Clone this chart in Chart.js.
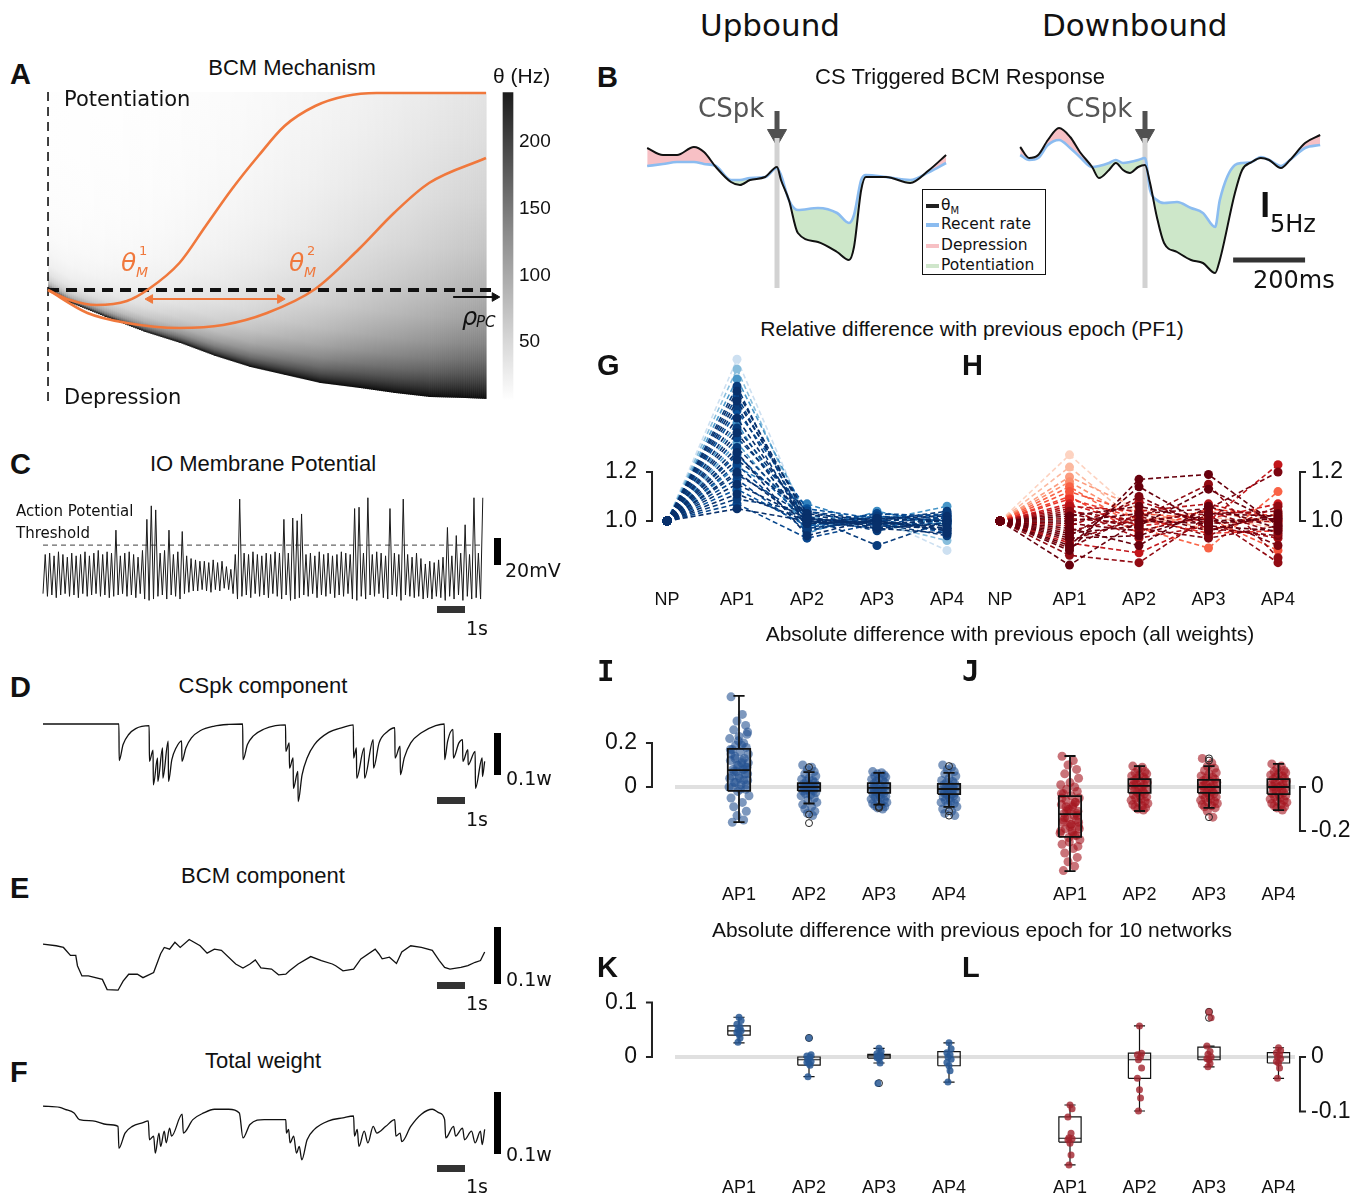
<!DOCTYPE html>
<html lang="en">
<head>
<meta charset="UTF-8">
<title>BCM plasticity figure</title>
<script src="https://cdn.jsdelivr.net/npm/chart.js"></script>
<style>
  body { margin: 0; background: #fff; }
  #fig { position: relative; width: 1359px; height: 1199px; overflow: hidden; font-family: 'Liberation Sans', Arial, sans-serif; color: #111; }
  #fig canvas, .t, .bar, #leg { position: absolute; }
  .t { white-space: nowrap; line-height: 1; }
  .c { transform: translateX(-50%); }
  .lab { font-weight: bold; font-size: 29px; }
  .mono { font-family: 'DejaVu Sans Mono', monospace; }
  .dv { font-family: 'DejaVu Sans', sans-serif; }
  .ttl { font-size: 22px; }
  .rt { font-size: 21px; }
  .bar { background: #000; }
  .sb { background: #333; }
  .or { color: #f0783c; font-family: 'DejaVu Sans', sans-serif; font-style: oblique; }
  #leg { border: 1.5px solid #111; background: #fff; font-family: 'DejaVu Sans', sans-serif; font-size: 15.5px; }
  .lr { position: absolute; left: 3px; line-height: 1; white-space: nowrap; }
  .sw { display: inline-block; width: 13px; height: 4px; vertical-align: middle; margin-right: 2px; }
</style>
</head>
<body>
<div id="fig">
  <canvas id="cA" width="460" height="325" style="left:40px;top:85px"></canvas>
  <canvas id="cCb" width="60" height="325" style="left:500px;top:85px"></canvas>
  <canvas id="cB1" width="310" height="205" style="left:640px;top:95px"></canvas>
  <canvas id="cB2" width="330" height="205" style="left:1010px;top:95px"></canvas>
  <canvas id="cC" width="450" height="115" style="left:40px;top:490px"></canvas>
  <canvas id="cD" width="450" height="95" style="left:40px;top:715px"></canvas>
  <canvas id="cE" width="450" height="75" style="left:40px;top:925px"></canvas>
  <canvas id="cF" width="450" height="75" style="left:40px;top:1095px"></canvas>
  <canvas id="cG" width="370" height="275" style="left:600px;top:340px"></canvas>
  <canvas id="cH" width="370" height="275" style="left:985px;top:340px"></canvas>
  <canvas id="cI" width="385" height="230" style="left:600px;top:680px"></canvas>
  <canvas id="cJ" width="370" height="230" style="left:985px;top:680px"></canvas>
  <canvas id="cK" width="385" height="224" style="left:600px;top:975px"></canvas>
  <canvas id="cL" width="370" height="224" style="left:985px;top:975px"></canvas>

  <div class="t dv" style="left:700px;top:10px;font-size:31px">Upbound</div>
  <div class="t dv" style="left:1042px;top:10px;font-size:31px">Downbound</div>

  <div class="t lab" style="left:10px;top:60px">A</div>
  <div class="t lab" style="left:597px;top:63px">B</div>
  <div class="t lab" style="left:10px;top:450px">C</div>
  <div class="t lab" style="left:10px;top:673px">D</div>
  <div class="t lab" style="left:10px;top:874px">E</div>
  <div class="t lab" style="left:10px;top:1058px">F</div>
  <div class="t lab" style="left:597px;top:351px">G</div>
  <div class="t lab" style="left:962px;top:351px">H</div>
  <div class="t lab mono" style="left:597px;top:657px">I</div>
  <div class="t lab mono" style="left:962px;top:657px">J</div>
  <div class="t lab" style="left:597px;top:953px">K</div>
  <div class="t lab" style="left:962px;top:953px">L</div>

  <div class="t ttl c" style="left:292px;top:57px">BCM Mechanism</div>
  <div class="t" style="left:493px;top:65px;font-size:21px">θ (Hz)</div>
  <div class="t dv" style="left:64px;top:89px;font-size:21px">Potentiation</div>
  <div class="t dv" style="left:64px;top:387px;font-size:21px">Depression</div>
  <div class="t or" style="left:121px;top:250px;font-size:25px">θ</div>
  <div class="t or" style="left:139px;top:244px;font-size:13px;font-style:normal">1</div>
  <div class="t or" style="left:136px;top:265px;font-size:14px">M</div>
  <div class="t or" style="left:289px;top:250px;font-size:25px">θ</div>
  <div class="t or" style="left:307px;top:244px;font-size:13px;font-style:normal">2</div>
  <div class="t or" style="left:304px;top:265px;font-size:14px">M</div>
  <div class="t dv" style="left:462px;top:305px;font-size:24px;font-style:oblique">ρ</div>
  <div class="t dv" style="left:476px;top:315px;font-size:15px;font-style:oblique">PC</div>

  <div class="t ttl c" style="left:960px;top:66px">CS Triggered BCM Response</div>
  <div class="t dv" style="left:698px;top:95px;font-size:26px;color:#555">CSpk</div>
  <div class="t dv" style="left:1066px;top:95px;font-size:26px;color:#555">CSpk</div>
  <div class="t dv" style="left:1270px;top:212px;font-size:24px">5Hz</div>
  <div class="t dv" style="left:1253px;top:268px;font-size:24px">200ms</div>
  <div id="leg" style="left:922px;top:189px;width:122px;height:84px">
    <div class="lr" style="top:8px"><span class="sw" style="background:#222"></span>θ<sub style="font-size:10px">M</sub></div>
    <div class="lr" style="top:27px"><span class="sw" style="background:#8bbcf0"></span>Recent rate</div>
    <div class="lr" style="top:48px"><span class="sw" style="background:#f7c0c4"></span>Depression</div>
    <div class="lr" style="top:68px"><span class="sw" style="background:#cfe6cb"></span>Potentiation</div>
  </div>

  <div class="t ttl c" style="left:263px;top:453px">IO Membrane Potential</div>
  <div class="t dv" style="left:16px;top:504px;font-size:15px">Action Potential</div>
  <div class="t dv" style="left:16px;top:526px;font-size:15px">Threshold</div>
  <div class="bar" style="left:494px;top:538px;width:7px;height:27px"></div>
  <div class="t dv" style="left:505px;top:561px;font-size:19px">20mV</div>
  <div class="bar sb" style="left:437px;top:606px;width:28px;height:7px"></div>
  <div class="t dv" style="left:466px;top:619px;font-size:19px">1s</div>

  <div class="t ttl c" style="left:263px;top:675px">CSpk component</div>
  <div class="bar" style="left:494px;top:733px;width:7px;height:42px"></div>
  <div class="t dv" style="left:506px;top:769px;font-size:19px">0.1w</div>
  <div class="bar sb" style="left:437px;top:797px;width:28px;height:7px"></div>
  <div class="t dv" style="left:466px;top:810px;font-size:19px">1s</div>

  <div class="t ttl c" style="left:263px;top:865px">BCM component</div>
  <div class="bar" style="left:494px;top:927px;width:7px;height:57px"></div>
  <div class="t dv" style="left:506px;top:970px;font-size:19px">0.1w</div>
  <div class="bar sb" style="left:437px;top:982px;width:28px;height:7px"></div>
  <div class="t dv" style="left:466px;top:994px;font-size:19px">1s</div>

  <div class="t ttl c" style="left:263px;top:1050px">Total weight</div>
  <div class="bar" style="left:494px;top:1092px;width:7px;height:62px"></div>
  <div class="t dv" style="left:506px;top:1145px;font-size:19px">0.1w</div>
  <div class="bar sb" style="left:437px;top:1165px;width:28px;height:7px"></div>
  <div class="t dv" style="left:466px;top:1177px;font-size:19px">1s</div>

  <div class="t rt c" style="left:972px;top:318px">Relative difference with previous epoch (PF1)</div>
  <div class="t rt c" style="left:1010px;top:623px">Absolute difference with previous epoch (all weights)</div>
  <div class="t rt c" style="left:972px;top:919px">Absolute difference with previous epoch for 10 networks</div>
</div>

<script>
// ---------- A: BCM mechanism (rho normalised 0..1, theta in arbitrary units, 0 = dashed line)
const th1Rho = [0, 0.05, 0.11, 0.18, 0.23, 0.30, 0.36, 0.42, 0.48, 0.54, 0.61, 0.68, 0.75, 1.0];
const th1Val = [0, -0.10, -0.15, -0.11, 0.01, 0.27, 0.64, 1.01, 1.34, 1.64, 1.84, 1.94, 1.97, 1.97];
const th2Rho = [0, 0.09, 0.18, 0.30, 0.40, 0.50, 0.61, 0.71, 0.79, 0.87, 1.0];
const th2Val = [0, -0.23, -0.33, -0.38, -0.35, -0.23, 0.01, 0.41, 0.77, 1.07, 1.32];
const envRho = [0, 0.05, 0.13, 0.22, 0.30, 0.38, 0.46, 0.54, 0.62, 0.71, 0.79, 0.87, 0.95, 1.0];
const envVal = [0, -0.13, -0.27, -0.42, -0.53, -0.66, -0.77, -0.85, -0.93, -0.98, -1.03, -1.07, -1.08, -1.09];
const aTop = 1.98, aBottom = -1.15, aDashEnd = 1.025;
const rhoArrowX = [0.925, 1.02], rhoArrowY = -0.07;
const shiftX = [0.233, 0.53], shiftY = -0.09;
const cbRange = [6, 237];
const cbTicks = [50, 100, 150, 200];

// ---------- B: CS triggered response (ms from CSpk, Hz)
const b1T = [-361, -317, -278, -231, -203, -170, -128, -103, -75, -33, 0, 11, 33, 58, 114, 167, 200, 214, 234, 247, 303, 370, 423, 470];
const b1Theta = [30.4, 29, 29, 30.6, 29.6, 26.6, 23.6, 23, 24, 24.6, 26.6, 24, 20, 13.4, 11.6, 9.6, 8, 10.6, 22, 24.6, 24.6, 23.4, 26, 29];
const b1Rate = [26.8, 27.2, 27.6, 27.6, 27.2, 26.8, 24, 24, 24.4, 24.6, 26.4, 25, 20, 18, 18.4, 17.4, 15.4, 17, 24, 25, 24.6, 24, 25.6, 27.4];
const b2T = [-347, -322, -297, -270, -239, -208, -181, -147, -128, -100, -81, -61, -42, -19, 0, 14, 33, 53, 89, 128, 161, 195, 208, 250, 270, 297, 322, 345, 378, 403, 445, 487];
const b2Theta = [30.6, 28.4, 29, 32, 34.4, 32.6, 29.6, 26.6, 24.4, 26, 27.4, 26, 25.4, 26.6, 27, 23.4, 16.6, 11.4, 9.6, 8, 7.4, 5.4, 8, 21.4, 26, 27.6, 28.4, 28, 26.4, 28, 31.4, 33];
const b2Rate = [29, 28, 28.4, 31, 32, 30.4, 28.6, 26.6, 26.8, 27.4, 28, 27.4, 27.6, 28, 28.4, 22, 20, 19.4, 19.6, 18.4, 17.4, 14.6, 20, 27, 27.4, 27.6, 28.6, 28, 26.8, 28, 30.4, 31];
const cspkLine = [2.4, 32.4];
const arrowHz = [37.8, 34.2, 33.0];
const hzBarT = 334, hzBar = [16.6, 21.6];
const msBarHz = 8, msBar = [245, 445];

// ---------- C: IO membrane potential, one peak and one trough per cycle (mV)
const ioPeak = [-47, -46, -48, -45, -47, -49, -46, -48, -47, -45,
  -48, -46, -44, -47, -45, -46, -29, -48, -46, -45,
  -47, -49, -44, -21, -11, -14, -46, -44, -29, -47,
  -45, -30, -48, -50, -51, -52, -52, -53, -51, -53,
  -52, -56, -58, -47, -6, -46, -47, -45, -47, -48,
  -46, -47, -45, -46, -21, -46, -20, -22, -17, -47,
  -46, -48, -45, -47, -46, -48, -47, -45, -46, -47,
  -13, -12, -46, -5, -47, -45, -46, -48, -13, -46,
  -47, -6, -47, -49, -46, -50, -54, -52, -53, -51,
  -49, -27, -48, -33, -46, -25, -47, -5, -46, -5];
const ioTrough = [-76, -78, -77, -79, -77, -76, -78, -77, -79, -76,
  -78, -77, -76, -78, -77, -79, -78, -77, -76, -78,
  -77, -79, -76, -80, -81, -80, -78, -77, -80, -77,
  -78, -80, -76, -75, -74, -74, -73, -74, -75, -73,
  -74, -72, -73, -76, -80, -78, -77, -79, -76, -78,
  -77, -79, -76, -78, -80, -77, -81, -80, -79, -77,
  -78, -76, -79, -77, -78, -76, -79, -77, -78, -76,
  -80, -81, -78, -80, -77, -78, -76, -79, -80, -77,
  -78, -81, -77, -78, -79, -78, -80, -79, -80, -78,
  -79, -81, -78, -80, -77, -81, -78, -80, -79, -80];
const ioThreshold = -40;

// ---------- D, E, F: weight components (s, w)
const dT = [0, 2.71, 2.72, 2.86, 3.06, 3.31, 3.79, 3.80, 3.93, 3.94, 4.09, 4.10, 4.27, 4.28, 4.47, 4.48, 4.60, 4.75, 4.95, 4.96,
  5.10, 5.30, 5.61, 6.12, 6.63, 7.13, 7.14, 7.30, 7.50, 7.90, 8.30, 8.66, 8.67, 8.79, 8.80, 8.93, 8.94, 9.10, 9.11, 9.25,
  9.43, 9.69, 10.20, 10.71, 11.08, 11.09, 11.19, 11.20, 11.47, 11.48, 11.79, 11.80, 12.00, 12.30, 12.56, 12.57, 12.75, 12.76, 12.90, 13.13,
  13.51, 14.02, 14.33, 14.34, 14.45, 14.64, 14.65, 14.85, 14.98, 14.99, 15.17, 15.18, 15.43, 15.44, 15.68, 15.69, 15.77];
const dW = [0, 0, -0.087, -0.049, -0.025, -0.011, -0.004, -0.089, -0.062, -0.145, -0.081, -0.137, -0.057, -0.129, -0.041, -0.137, -0.085, -0.057, -0.040, -0.089,
  -0.057, -0.033, -0.016, -0.005, -0.001, 0, -0.085, -0.049, -0.029, -0.012, -0.004, -0.002, -0.065, -0.045, -0.105, -0.081, -0.153, -0.113, -0.185, -0.121,
  -0.081, -0.049, -0.020, -0.008, -0.002, -0.081, -0.057, -0.129, -0.057, -0.129, -0.037, -0.105, -0.045, -0.018, -0.009, -0.081, -0.053, -0.121, -0.080, -0.045,
  -0.021, -0.004, 0, -0.085, -0.040, -0.013, -0.081, -0.045, -0.037, -0.089, -0.061, -0.097, -0.065, -0.153, -0.081, -0.125, -0.089];
const eT = [0, 0.47, 0.73, 0.98, 1.17, 1.23, 1.39, 1.62, 2.12, 2.29, 2.68, 2.86, 3.06, 3.37, 3.57, 3.95, 4.20, 4.33, 4.52, 4.71,
  4.90, 5.22, 5.61, 5.86, 6.12, 6.37, 6.88, 7.14, 7.39, 7.58, 7.78, 8.16, 8.41, 8.67, 8.80, 9.11, 9.56, 9.94, 10.33, 10.45,
  10.71, 11.09, 11.35, 11.86, 11.99, 12.11, 12.37, 12.62, 12.81, 13.13, 13.51, 13.90, 14.15, 14.34, 14.53, 14.92, 15.17, 15.43, 15.62, 15.77];
const eW = [0.028, 0.025, 0.022, 0.008, 0.008, -0.010, -0.028, -0.028, -0.034, -0.052, -0.053, -0.037, -0.025, -0.025, -0.031, -0.022, 0.011, 0.022, 0.019, 0.031,
  0.022, 0.036, 0.025, 0.012, 0.019, 0.017, -0.007, -0.014, -0.007, 0.0, -0.014, -0.016, -0.026, -0.025, -0.019, -0.007, 0.006, -0.001, -0.007, -0.010,
  -0.019, -0.016, 0.002, 0.019, 0.011, 0.002, 0.005, -0.006, 0.014, 0.025, 0.022, 0.017, -0.001, -0.013, -0.016, -0.013, -0.010, -0.004, -0.001, 0.014];
const fT = [0, 0.60, 0.79, 1.11, 1.30, 1.78, 2.29, 2.68, 2.71, 2.93, 3.19, 3.57, 3.76, 3.80, 3.95, 4.01, 4.14, 4.20, 4.33, 4.40,
  4.52, 4.59, 4.97, 5.01, 5.35, 5.74, 6.12, 6.63, 7.01, 7.14, 7.39, 7.90, 8.67, 8.69, 8.77, 8.82, 8.95, 9.05, 9.15, 9.24,
  9.43, 9.69, 10.20, 10.71, 11.09, 11.12, 11.22, 11.28, 11.47, 11.60, 11.79, 11.92, 12.24, 12.56, 12.60, 12.75, 12.81, 13.13, 13.51, 13.90,
  14.15, 14.34, 14.38, 14.66, 14.73, 14.98, 15.05, 15.30, 15.43, 15.62, 15.68, 15.77];
const fW = [0.039, 0.037, 0.034, 0.028, 0.017, 0.015, 0.009, 0.006, -0.030, -0.005, 0.006, 0.012, 0.015, -0.016, -0.010, -0.038, -0.005, -0.027, -0.002, -0.021,
  0.003, -0.010, 0.026, -0.005, 0.017, 0.028, 0.034, 0.034, 0.028, -0.013, 0.009, 0.017, 0.017, -0.005, 0.001, -0.021, -0.010, -0.038, -0.027, -0.049,
  -0.016, 0.001, 0.015, 0.020, 0.023, -0.010, 0.001, -0.027, -0.002, -0.021, 0.006, -0.005, 0.006, 0.017, -0.010, -0.005, -0.019, 0.006, 0.026, 0.034,
  0.028, 0.017, -0.013, 0.006, -0.010, 0.003, -0.016, -0.002, -0.021, -0.002, -0.024, 0.001];

// ---------- G, H: relative difference with previous epoch, one entry per PF
const epochNames = ['NP', 'AP1', 'AP2', 'AP3', 'AP4'];
const npRel = 1.0;
const gAP1 = [1.66, 1.62, 1.58, 1.55, 1.53, 1.51, 1.49, 1.47, 1.45, 1.42, 1.40, 1.38, 1.36, 1.34, 1.32, 1.30, 1.28, 1.27, 1.25, 1.23, 1.22, 1.20, 1.19, 1.17, 1.15, 1.13, 1.11, 1.09, 1.07, 1.05];
const gAP2 = [1.00, 0.98, 1.02, 0.96, 1.01, 0.99, 1.03, 0.97, 1.05, 1.00, 0.95, 1.02, 0.99, 1.04, 0.98, 1.01, 0.94, 1.00, 1.03, 0.97, 1.07, 0.99, 1.02, 0.96, 1.01, 0.98, 1.00, 1.04, 0.93, 1.00];
const gAP3 = [1.01, 0.99, 1.00, 1.02, 0.98, 1.03, 0.97, 1.00, 1.01, 0.99, 1.04, 0.96, 1.00, 0.98, 1.02, 0.99, 1.01, 0.97, 1.00, 1.03, 0.98, 1.00, 0.90, 1.01, 0.99, 1.02, 0.97, 1.00, 0.99, 1.01];
const gAP4 = [0.88, 0.92, 1.06, 1.00, 0.97, 1.02, 0.99, 1.04, 0.95, 1.00, 0.98, 1.01, 0.96, 1.03, 0.99, 0.94, 1.00, 1.02, 0.97, 1.01, 0.99, 0.96, 1.00, 1.03, 0.98, 1.00, 0.95, 1.01, 0.99, 1.02];
const hAP1 = [1.27, 1.22, 1.18, 1.16, 1.14, 1.12, 1.10, 1.09, 1.07, 1.06, 1.05, 1.04, 1.03, 1.02, 1.01, 1.00, 0.99, 0.98, 0.97, 0.96, 0.95, 0.94, 0.93, 0.92, 0.91, 0.90, 0.89, 0.88, 0.86, 0.82];
const hAP2 = [1.02, 0.99, 1.05, 1.00, 0.97, 1.03, 0.95, 1.01, 0.98, 1.04, 0.93, 1.00, 0.97, 1.06, 0.99, 1.03, 0.96, 1.08, 0.90, 1.02, 0.98, 1.10, 0.94, 1.01, 0.87, 1.14, 1.03, 1.17, 0.83, 1.00];
const hAP3 = [0.99, 1.02, 0.96, 1.04, 0.89, 1.01, 1.05, 0.95, 1.01, 1.07, 0.98, 1.03, 0.93, 1.00, 1.04, 0.96, 1.02, 0.99, 1.06, 0.94, 1.13, 0.97, 1.03, 1.15, 1.00, 0.98, 1.05, 1.19, 1.02, 0.99];
const hAP4 = [1.00, 0.97, 1.03, 0.99, 1.12, 0.88, 1.02, 0.96, 1.07, 1.00, 0.93, 1.04, 0.98, 1.01, 0.95, 1.03, 0.90, 1.00, 0.97, 1.06, 0.99, 0.94, 1.02, 0.85, 1.23, 0.96, 1.20, 0.98, 0.83, 1.01];
// colour level of each PF line in the colormap (style only)
const gShade = [0.1, 0.35, 0.55, 0.95, 1, 0.9, 1, 0.95, 0.85, 1, 0.6, 0.95, 1, 0.9, 0.5, 0.95, 1, 0.85, 1, 0.9, 0.65, 1, 0.95, 0.9, 1, 0.85, 1, 0.95, 0.9, 1];
const hShade = [0.05, 0.15, 0.25, 0.3, 0.45, 0.5, 0.55, 0.6, 0.7, 0.8, 0.85, 0.9, 0.95, 1, 0.9, 1, 0.95, 0.85, 1, 0.9, 1, 0.95, 1, 0.9, 0.75, 1, 0.95, 1, 0.9, 1];

// ---------- I, J: absolute difference, all weights
const apNames = ['AP1', 'AP2', 'AP3', 'AP4'];
const epochX = [1, 2, 3, 4];
const jit40 = [-0.12, 0.05, -0.03, 0.10, -0.08, 0.13, 0.00, -0.14, 0.07, -0.05, 0.11, -0.10, 0.02, 0.14, -0.06, 0.08, -0.13, 0.04, -0.01, 0.12,
  -0.09, 0.06, -0.04, 0.09, -0.11, 0.01, 0.13, -0.07, 0.03, -0.15, 0.10, -0.02, 0.15, -0.12, 0.05, -0.08, 0.11, -0.03, 0.07, -0.10];
const iAP1 = [0.41, 0.33, 0.30, 0.28, 0.26, 0.25, 0.23, 0.22, 0.20, 0.19, 0.18, 0.17, 0.16, 0.15, 0.14, 0.13, 0.12, 0.11, 0.10, 0.09,
  0.08, 0.08, 0.07, 0.06, 0.05, 0.04, 0.03, 0.02, 0.01, 0.00, -0.01, -0.02, -0.04, -0.05, -0.07, -0.09, -0.11, -0.13, -0.15, -0.16,
  0.15, 0.12, 0.10, 0.09, 0.07, 0.06, 0.05, 0.04, 0.03, 0.02, 0.01, 0.0, -0.01, 0.11, 0.13, 0.08, 0.17, 0.19, 0.21, 0.24];
const iAP2 = [0.10, 0.09, 0.08, 0.07, 0.06, 0.05, 0.04, 0.035, 0.03, 0.025, 0.02, 0.015, 0.01, 0.008, 0.005, 0.003, 0.0, -0.002, -0.004, -0.006,
  -0.008, -0.01, -0.012, -0.015, -0.018, -0.02, -0.025, -0.03, -0.035, -0.04, -0.05, -0.06, -0.07, -0.08, -0.09, -0.10, -0.11, -0.12, -0.13, 0.001];
const iAP3 = [0.07, 0.065, 0.06, 0.055, 0.05, 0.045, 0.04, 0.035, 0.03, 0.025, 0.02, 0.015, 0.01, 0.005, 0.0, -0.003, -0.006, -0.01, -0.013, -0.016,
  -0.02, -0.023, -0.026, -0.03, -0.034, -0.038, -0.042, -0.046, -0.05, -0.055, -0.06, -0.065, -0.07, -0.075, -0.08, -0.085, -0.09, -0.095, -0.10, -0.005];
const iAP4 = [0.10, 0.09, 0.08, 0.07, 0.06, 0.05, 0.04, 0.03, 0.025, 0.02, 0.015, 0.01, 0.005, 0.0, -0.004, -0.008, -0.012, -0.016, -0.02, -0.024,
  -0.028, -0.032, -0.036, -0.04, -0.045, -0.05, -0.055, -0.06, -0.065, -0.07, -0.075, -0.08, -0.09, -0.10, -0.11, -0.12, -0.13, -0.01, 0.0, -0.02];
const iQ1 = [-0.018, -0.018, -0.027, -0.032], iMed = [0.077, 0.0, -0.004, -0.009], iQ3 = [0.173, 0.018, 0.018, 0.014];
const iLo = [-0.16, -0.075, -0.08, -0.09], iHi = [0.414, 0.068, 0.064, 0.064];
const iOutX = [2, 2, 2, 3, 3, 4, 4, 4], iOutY = [-0.164, -0.125, 0.09, -0.09, -0.095, 0.095, -0.11, -0.13];
const jAP1 = [0.14, 0.12, 0.10, 0.08, 0.06, 0.04, 0.02, 0.01, 0.0, -0.01, -0.02, -0.03, -0.04, -0.05, -0.06, -0.07, -0.08, -0.09, -0.10, -0.11,
  -0.12, -0.13, -0.14, -0.15, -0.16, -0.17, -0.18, -0.19, -0.20, -0.21, -0.22, -0.23, -0.24, -0.26, -0.28, -0.30, -0.32, -0.34, -0.36, -0.38,
  -0.05, -0.08, -0.10, -0.12, -0.14, -0.16, -0.18, -0.20, -0.22, -0.11, -0.13, -0.15, -0.17, -0.19, -0.09, -0.07, -0.03, -0.21, -0.25, -0.27];
const jAP2 = [0.095, 0.09, 0.08, 0.07, 0.065, 0.06, 0.055, 0.05, 0.045, 0.04, 0.035, 0.03, 0.025, 0.02, 0.015, 0.01, 0.005, 0.0, -0.005, -0.01,
  -0.015, -0.02, -0.025, -0.03, -0.035, -0.04, -0.045, -0.05, -0.055, -0.06, -0.065, -0.07, -0.075, -0.08, -0.085, -0.09, -0.095, -0.10, -0.105, 0.012];
const jAP3 = [0.13, 0.11, 0.095, 0.085, 0.075, 0.065, 0.06, 0.05, 0.045, 0.04, 0.035, 0.03, 0.025, 0.02, 0.015, 0.01, 0.005, 0.0, -0.005, -0.01,
  -0.015, -0.02, -0.025, -0.03, -0.035, -0.04, -0.045, -0.05, -0.055, -0.06, -0.065, -0.07, -0.075, -0.08, -0.085, -0.09, -0.095, -0.11, -0.137, 0.005];
const jAP4 = [0.105, 0.095, 0.085, 0.075, 0.07, 0.065, 0.06, 0.055, 0.05, 0.045, 0.04, 0.035, 0.03, 0.025, 0.02, 0.015, 0.01, 0.005, 0.0, -0.005,
  -0.01, -0.015, -0.02, -0.025, -0.03, -0.035, -0.04, -0.045, -0.05, -0.055, -0.06, -0.065, -0.07, -0.075, -0.08, -0.085, -0.09, -0.095, -0.105, 0.002];
const jQ1 = [-0.227, -0.027, -0.027, -0.032], jMed = [-0.123, 0.005, 0.0, 0.0], jQ3 = [-0.041, 0.036, 0.032, 0.036];
const jLo = [-0.382, -0.109, -0.095, -0.105], jHi = [0.141, 0.095, 0.095, 0.105];
const jOutX = [3, 3, 3], jOutY = [0.13, 0.12, -0.137];

// ---------- K, L: absolute difference, 10 networks
const jit10 = [0, 0.03, -0.03, 0.015, -0.015, 0.03, -0.03, 0, 0.015, -0.015];
const kAP1 = [0.073, 0.067, 0.060, 0.055, 0.050, 0.048, 0.045, 0.042, 0.035, 0.027];
const kAP2 = [0.035, 0.004, 0.002, 0.0, -0.005, -0.008, -0.010, -0.012, -0.015, -0.036];
const kAP3 = [0.016, 0.010, 0.006, 0.004, 0.002, 0.001, -0.001, -0.003, -0.011, -0.048];
const kAP4 = [0.026, 0.015, 0.008, 0.004, 0.0, -0.004, -0.010, -0.016, -0.025, -0.046];
const kQ1 = [0.040, -0.015, -0.002, -0.016], kMed = [0.048, -0.005, 0.002, 0.0], kQ3 = [0.057, 0.0, 0.005, 0.010];
const kLo = [0.026, -0.036, -0.011, -0.046], kHi = [0.073, 0.0, 0.016, 0.026];
const kOutX = [2, 3], kOutY = [0.035, -0.048];
const lAP1 = [-0.088, -0.095, -0.110, -0.140, -0.148, -0.150, -0.152, -0.158, -0.180, -0.198];
const lAP2 = [0.057, 0.007, 0.004, 0.0, -0.005, -0.020, -0.039, -0.060, -0.075, -0.099];
const lAP3 = [0.083, 0.072, 0.020, 0.010, 0.005, 0.0, -0.003, -0.005, -0.012, -0.018];
const lAP4 = [0.017, 0.012, 0.008, 0.004, 0.0, -0.003, -0.008, -0.011, -0.020, -0.039];
const lQ1 = [-0.156, -0.039, -0.005, -0.011], lMed = [-0.149, -0.005, 0.0, 0.0], lQ3 = [-0.110, 0.007, 0.018, 0.008];
const lLo = [-0.198, -0.099, -0.018, -0.039], lHi = [-0.088, 0.057, 0.020, 0.017];
const lOutX = [3, 3], lOutY = [0.083, 0.072];

// ---------- helpers
Chart.defaults.font.family = "'Liberation Sans', Arial, sans-serif";
Chart.defaults.color = '#111';
const $ = id => document.getElementById(id);
const pts = (xs, ys) => xs.map((x, i) => ({ x, y: ys[i] }));
const orange = '#f0783c';
const blues = ['#deebf7', '#c6dbef', '#9ecae1', '#6baed6', '#4292c6', '#2171b5', '#08519c', '#08306b'];
const reds = ['#fee0d2', '#fcbba1', '#fc9272', '#fb6a4a', '#ef3b2c', '#cb181d', '#a50f15', '#67000d'];

function hex(h) { return [1, 3, 5].map(k => parseInt(h.substr(k, 2), 16)); }
function cmap(stops, t) {
  const p = t * (stops.length - 1), i = Math.min(Math.floor(p), stops.length - 2), f = p - i;
  const a = hex(stops[i]), b = hex(stops[i + 1]);
  return 'rgb(' + a.map((v, k) => Math.round(v + (b[k] - v) * f)).join(',') + ')';
}

function base() {
  return {
    responsive: false, animation: false, events: [],
    layout: { padding: 0, autoPadding: false },
    elements: { point: { radius: 0, hitRadius: 0 }, line: { tension: 0 } },
    plugins: { legend: { display: false }, tooltip: { enabled: false },
      filler: { propagate: false, drawTime: 'beforeDatasetsDraw' } }
  };
}
function bare(xmin, xmax, ymin, ymax) {
  const o = base();
  o.scales = { x: { type: 'linear', display: false, min: xmin, max: xmax },
               y: { type: 'linear', display: false, min: ymin, max: ymax } };
  return o;
}
// axes with fixed sizes so that the plot area lands where the figure has it
function yFixed(min, max, ticks, labels, side, width, size) {
  return {
    type: 'linear', position: side, min, max,
    grid: { display: false, drawTicks: false }, border: { display: false },
    ticks: { padding: 3, color: '#111', font: { size }, callback: (v, i) => labels[i] },
    afterBuildTicks: s => { s.ticks = ticks.map(v => ({ value: v })); },
    afterFit: s => { s.width = width; s.paddingTop = 0; s.paddingBottom = 0; }
  };
}
function axed(xr, xTicks, xLabels, xH, yr, yTicks, yLabels, side) {
  const o = base();
  o.scales = {
    x: { type: 'linear', min: xr[0], max: xr[1],
      grid: { display: false, drawTicks: false }, border: { display: false },
      ticks: { padding: 4, autoSkip: false, maxRotation: 0, minRotation: 0, color: '#111', font: { size: 18 },
        callback: (v, i) => xLabels[i] },
      afterBuildTicks: s => { s.ticks = xTicks.map(v => ({ value: v })); },
      afterFit: s => { s.height = xH; s.paddingLeft = 0; s.paddingRight = 0; } },
    y: yFixed(yr[0], yr[1], yTicks, yLabels, side, side === 'left' ? 40 : 47, 23)
  };
  return o;
}
function bracketSet(xOut, xSpine, y1, y2) {
  return { data: [{ x: xOut, y: y1 }, { x: xSpine, y: y1 }, { x: xSpine, y: y2 }, { x: xOut, y: y2 }],
    borderColor: '#222', borderWidth: 2, order: 0 };
}

// ---------- A
const shade = {
  id: 'shade',
  beforeDatasetsDraw(chart) {
    const env = chart.getDatasetMeta(2).data;
    const ctx = chart.ctx, top = chart.scales.y.getPixelForValue(aTop), x0 = env[0].x;
    const dists = [0, 3, 6, 10, 16, 25, 38, 55, 80, 110, 150, 200, 260, 330];
    ctx.save();
    for (let k = 0; k < env.length - 1; k++) {
      const a = env[k], b = env[k + 1];
      for (let px = a.x; px < b.x; px += 2) {
        const ey = a.y + (b.y - a.y) * (px - a.x) / (b.x - a.x);
        const h = ey - top;
        const L = 5 + 0.0005 * (px - x0) * (px - x0);
        const g = ctx.createLinearGradient(0, top, 0, ey);
        const tone = d => { const c = Math.round(255 - 245 / Math.pow(1 + d / L, 1.55)); return `rgb(${c},${c},${c})`; };
        dists.forEach(d => { if (d < h) g.addColorStop(1 - d / h, tone(d)); });
        g.addColorStop(0, tone(h));
        ctx.fillStyle = g;
        ctx.fillRect(px, top, Math.min(2.6, b.x - px + 0.6), h);
      }
    }
    ctx.restore();
  }
};
new Chart($('cA'), {
  type: 'line',
  data: { datasets: [
    { data: pts(th1Rho, th1Val), borderColor: orange, borderWidth: 2.6, cubicInterpolationMode: 'monotone', order: 1 },
    { data: pts(th2Rho, th2Val), borderColor: orange, borderWidth: 2.6, cubicInterpolationMode: 'monotone', order: 1 },
    { data: pts(envRho, envVal), borderWidth: 0, borderColor: 'rgba(0,0,0,0)', order: 9 },
    { data: [{ x: 0, y: aTop }, { x: 0, y: aBottom }], borderColor: '#111', borderWidth: 1.6, borderDash: [9, 6], order: 4 },
    { data: [{ x: 0, y: 0 }, { x: aDashEnd, y: 0 }], borderColor: '#111', borderWidth: 4, borderDash: [11, 7], order: 3 },
    { data: pts(rhoArrowX, [rhoArrowY, rhoArrowY]), borderColor: '#111', borderWidth: 2.2, order: 2 },
    { data: [{ x: rhoArrowX[1], y: rhoArrowY }], showLine: false, pointStyle: 'triangle', pointRadius: 5, pointRotation: 90,
      backgroundColor: '#111', borderColor: '#111', pointBorderWidth: 1, order: 2 },
    { data: pts(shiftX, [shiftY, shiftY]), borderColor: orange, borderWidth: 2.2, order: 1 },
    { data: pts(shiftX, [shiftY, shiftY]), showLine: false, pointStyle: 'triangle', pointRadius: 5, pointRotation: [-90, 90],
      backgroundColor: orange, borderColor: orange, pointBorderWidth: 1, order: 1 }
  ] },
  options: bare(-0.0183, 1.032, -1.2, 2.05),
  plugins: [shade]
});

// colour bar
const cbOpts = base();
cbOpts.scales = { x: { display: false }, y: yFixed(-1, 242.75, cbTicks, cbTicks.map(String), 'right', 44, 19) };
new Chart($('cCb'), {
  type: 'bar',
  data: { labels: ['θ'], datasets: [{ data: [cbRange], barThickness: 10, borderWidth: 0,
    backgroundColor: c => {
      const ch = c.chart;
      if (!ch.chartArea) return '#888';
      const y = ch.scales.y;
      const g = ch.ctx.createLinearGradient(0, y.getPixelForValue(cbRange[1]), 0, y.getPixelForValue(cbRange[0]));
      g.addColorStop(0, '#1c1c1c'); g.addColorStop(0.45, '#8a8a8a'); g.addColorStop(0.8, '#d6d6d6'); g.addColorStop(1, '#ffffff');
      return g;
    } }] },
  options: cbOpts
});

// ---------- B
function bSets(t, theta, rate) {
  return [
    { data: pts(t, theta), borderColor: '#111', borderWidth: 2, cubicInterpolationMode: 'monotone',
      fill: { target: 1, above: 'rgba(244,165,172,0.7)', below: 'rgba(178,218,172,0.65)' } },
    { data: pts(t, rate), borderColor: '#8bbcf0', borderWidth: 2.6, cubicInterpolationMode: 'monotone' },
    { data: [{ x: 0, y: cspkLine[0] }, { x: 0, y: cspkLine[1] }], borderColor: '#d2d2d2', borderWidth: 5 },
    { data: [{ x: 0, y: arrowHz[0] }, { x: 0, y: arrowHz[1] }], borderColor: '#505050', borderWidth: 5 },
    { data: [{ x: 0, y: arrowHz[2] }], showLine: false, pointStyle: 'triangle', pointRotation: 180, pointRadius: 11,
      backgroundColor: '#505050', borderColor: '#505050', pointBorderWidth: 1 }
  ];
}
new Chart($('cB1'), { type: 'line', data: { datasets: bSets(b1T, b1Theta, b1Rate) }, options: bare(-380.9, 480.9, 0, 41) });
new Chart($('cB2'), {
  type: 'line',
  data: { datasets: bSets(b2T, b2Theta, b2Rate).concat([
    { data: [{ x: hzBarT, y: hzBar[0] }, { x: hzBarT, y: hzBar[1] }], borderColor: '#111', borderWidth: 5 },
    { data: [{ x: msBar[0], y: msBarHz }, { x: msBar[1], y: msBarHz }], borderColor: '#333', borderWidth: 5 }
  ]) },
  options: bare(-375.3, 542.1, 0, 41)
});

// ---------- C
const ioTrace = [];
ioPeak.forEach((p, i) => { ioTrace.push({ x: i, y: ioTrough[i] }, { x: i + 0.5, y: p }); });
new Chart($('cC'), {
  type: 'line',
  data: { datasets: [
    { data: ioTrace, borderColor: '#1a1a1a', borderWidth: 1 },
    { data: [{ x: 0, y: ioThreshold }, { x: 99.5, y: ioThreshold }], borderColor: '#666', borderWidth: 1.2, borderDash: [5, 4] }
  ] },
  options: bare(-0.68, 101.13, -84.4, 0.74)
});

// ---------- D, E, F
new Chart($('cD'), { type: 'line',
  data: { datasets: [{ data: pts(dT, dW), borderColor: '#111', borderWidth: 1.3, cubicInterpolationMode: 'monotone' }] },
  options: bare(-0.107, 15.96, -0.2048, 0.0214) });
new Chart($('cE'), { type: 'line',
  data: { datasets: [{ data: pts(eT, eW), borderColor: '#111', borderWidth: 1.3 }] },
  options: bare(-0.107, 15.96, -0.0702, 0.0614) });
new Chart($('cF'), { type: 'line',
  data: { datasets: [{ data: pts(fT, fW), borderColor: '#111', borderWidth: 1.3, cubicInterpolationMode: 'monotone' }] },
  options: bare(-0.107, 15.96, -0.0656, 0.0574) });

// ---------- G, H
function fan(cols, stops, shadeLevels) {
  const n = cols[0].length, sets = [];
  for (let i = 0; i < n; i++) {
    const col = cmap(stops, shadeLevels[i]);
    sets.push({ data: [{ x: 0, y: npRel }].concat(cols.map((c, k) => ({ x: k + 1, y: c[i] }))),
      borderColor: col, backgroundColor: col, borderWidth: 1.6, borderDash: [5, 3],
      pointRadius: 4.5, pointBorderWidth: 0, order: Math.round(20 - shadeLevels[i] * 10) + 5 });
  }
  return sets;
}
new Chart($('cG'), { type: 'line',
  data: { datasets: [bracketSet(-0.3, -0.214, 1.2, 1.0)].concat(fan([gAP1, gAP2, gAP3, gAP4], blues, gShade)) },
  options: axed([-0.3857, 4.3286], [0, 1, 2, 3, 4], epochNames, 30, [0.7388, 1.7388], [1.0, 1.2], ['1.0', '1.2'], 'left') });
new Chart($('cH'), { type: 'line',
  data: { datasets: [bracketSet(4.403, 4.317, 1.2, 1.0)].concat(fan([hAP1, hAP2, hAP3, hAP4], reds, hShade)) },
  options: axed([-0.2158, 4.4317], [0, 1, 2, 3, 4], epochNames, 30, [0.7388, 1.7388], [1.0, 1.2], ['1.0', '1.2'], 'right') });

// ---------- I, J, K, L box plots
function boxPanel(o) {
  const box = [], mid = [], whisk = [], dots = [];
  epochX.forEach((c, i) => {
    box.push({ x: c - o.half, y: o.q1[i] }, { x: c + o.half, y: o.q1[i] }, { x: c + o.half, y: o.q3[i] },
             { x: c - o.half, y: o.q3[i] }, { x: c - o.half, y: o.q1[i] }, { x: c, y: null });
    mid.push({ x: c - o.half, y: o.med[i] }, { x: c + o.half, y: o.med[i] }, { x: c, y: null });
    whisk.push({ x: c, y: o.q3[i] }, { x: c, y: o.hi[i] }, { x: c, y: null },
               { x: c - o.cap, y: o.hi[i] }, { x: c + o.cap, y: o.hi[i] }, { x: c, y: null },
               { x: c, y: o.q1[i] }, { x: c, y: o.lo[i] }, { x: c, y: null },
               { x: c - o.cap, y: o.lo[i] }, { x: c + o.cap, y: o.lo[i] }, { x: c, y: null });
    o.vals[i].forEach((v, k) => dots.push({ x: c + o.jit[k % o.jit.length] * o.jw[i], y: v }));
  });
  const boxOrder = o.ptsTop ? 5 : 1;
  return [
    bracketSet(o.br[0], o.br[1], o.br[2], o.br[3]),
    { data: box, borderColor: '#111', borderWidth: o.lw, order: boxOrder },
    { data: mid, borderColor: '#111', borderWidth: o.lw, order: boxOrder },
    { data: whisk, borderColor: '#111', borderWidth: o.lw, order: boxOrder },
    { data: dots, showLine: false, pointRadius: o.r, backgroundColor: o.color, pointBorderWidth: 0, order: o.ptsTop ? 0 : 10 },
    { data: pts(o.outX, o.outY), showLine: false, pointRadius: 3.5, backgroundColor: 'rgba(255,255,255,0)',
      borderColor: '#222', pointBorderWidth: 1, order: o.ptsTop ? 0 : 2 },
    { data: [{ x: o.zero[0], y: 0 }, { x: o.zero[1], y: 0 }], borderColor: '#e0e0e0', borderWidth: 4, order: 20 }
  ];
}
new Chart($('cI'), { type: 'line',
  data: { datasets: boxPanel({ vals: [iAP1, iAP2, iAP3, iAP4], q1: iQ1, med: iMed, q3: iQ3, lo: iLo, hi: iHi,
    jit: jit40, jw: [0.95, 0.75, 0.75, 0.75], r: 4.5, color: 'rgba(38,84,146,0.6)', outX: iOutX, outY: iOutY,
    half: 0.16, cap: 0.08, lw: 1.8, ptsTop: false, zero: [0.086, 4.514], br: [-0.329, -0.243, 0.2, 0] }) },
  options: axed([-0.4143, 4.5143], epochX, apNames, 30, [-0.4227, 0.4864], [0, 0.2], ['0', '0.2'], 'left') });
new Chart($('cJ'), { type: 'line',
  data: { datasets: boxPanel({ vals: [jAP1, jAP2, jAP3, jAP4], q1: jQ1, med: jMed, q3: jQ3, lo: jLo, hi: jHi,
    jit: jit40, jw: [0.95, 0.8, 0.8, 0.8], r: 4.5, color: 'rgba(165,22,32,0.6)', outX: jOutX, outY: jOutY,
    half: 0.16, cap: 0.08, lw: 1.8, ptsTop: false, zero: [-0.223, 4.237], br: [4.396, 4.309, 0, -0.2] }) },
  options: axed([-0.223, 4.4245], epochX, apNames, 30, [-0.4227, 0.4864], [-0.2, 0], ['-0.2', '0'], 'right') });
new Chart($('cK'), { type: 'line',
  data: { datasets: boxPanel({ vals: [kAP1, kAP2, kAP3, kAP4], q1: kQ1, med: kMed, q3: kQ3, lo: kLo, hi: kHi,
    jit: jit10, jw: [1, 1, 1, 1], r: 3.5, color: 'rgba(40,88,148,0.85)', outX: kOutX, outY: kOutY,
    half: 0.16, cap: 0.08, lw: 1.2, ptsTop: true, zero: [0.086, 4.514], br: [-0.329, -0.243, 0.1, 0] }) },
  options: axed([-0.4143, 4.5143], epochX, apNames, 26, [-0.2128, 0.1505], [0, 0.1], ['0', '0.1'], 'left') });
new Chart($('cL'), { type: 'line',
  data: { datasets: boxPanel({ vals: [lAP1, lAP2, lAP3, lAP4], q1: lQ1, med: lMed, q3: lQ3, lo: lLo, hi: lHi,
    jit: jit10, jw: [1, 1, 1, 1], r: 3.5, color: 'rgba(160,35,45,0.8)', outX: lOutX, outY: lOutY,
    half: 0.16, cap: 0.08, lw: 1.2, ptsTop: true, zero: [-0.223, 4.237], br: [4.396, 4.309, 0, -0.1] }) },
  options: axed([-0.223, 4.4245], epochX, apNames, 26, [-0.2128, 0.1505], [-0.1, 0], ['-0.1', '0'], 'right') });
</script>
</body>
</html>
